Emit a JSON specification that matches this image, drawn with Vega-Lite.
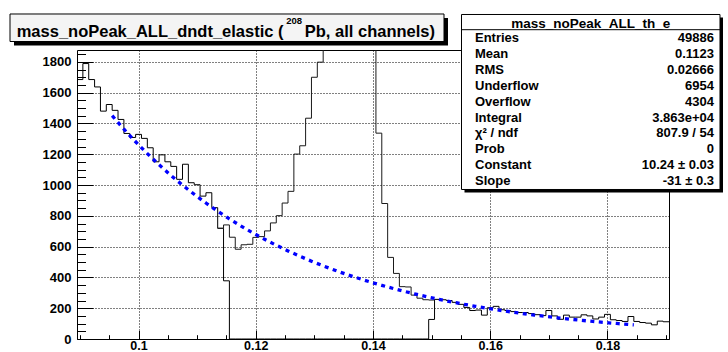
{
  "$schema": "https://vega.github.io/schema/vega-lite/v6.json",
  "width": 592,
  "height": 289,
  "autosize": {"type": "none"},
  "padding": {"left": 77, "top": 50, "right": 59, "bottom": 13},
  "background": "white",
  "config": {
    "font": "Liberation Sans",
    "view": {"stroke": "black", "strokeWidth": 1}
  },
  "datasets": {
    "noPeak": [
      {"lo": 0.0895, "n": 1685}, {"lo": 0.0905, "n": 1789}, {"lo": 0.0915, "n": 1685}, {"lo": 0.0925, "n": 1637},
      {"lo": 0.0935, "n": 1480}, {"lo": 0.0945, "n": 1523}, {"lo": 0.0955, "n": 1485}, {"lo": 0.0965, "n": 1426},
      {"lo": 0.0975, "n": 1335}, {"lo": 0.0985, "n": 1309}, {"lo": 0.0995, "n": 1329}, {"lo": 0.1005, "n": 1303},
      {"lo": 0.1015, "n": 1242}, {"lo": 0.1025, "n": 1151}, {"lo": 0.1035, "n": 1196}, {"lo": 0.1045, "n": 1151},
      {"lo": 0.1055, "n": 1121}, {"lo": 0.1065, "n": 1037}, {"lo": 0.1075, "n": 1135}, {"lo": 0.1085, "n": 1015},
      {"lo": 0.1095, "n": 1002}, {"lo": 0.1105, "n": 928}, {"lo": 0.1115, "n": 950}, {"lo": 0.1125, "n": 853},
      {"lo": 0.1135, "n": 719}, {"lo": 0.1145, "n": 378}, {"lo": 0.1155, "n": 0}, {"lo": 0.1165, "n": 0},
      {"lo": 0.1175, "n": 0}, {"lo": 0.1185, "n": 0}, {"lo": 0.1195, "n": 0}, {"lo": 0.1205, "n": 0},
      {"lo": 0.1215, "n": 0}, {"lo": 0.1225, "n": 0}, {"lo": 0.1235, "n": 0}, {"lo": 0.1245, "n": 0},
      {"lo": 0.1255, "n": 0}, {"lo": 0.1265, "n": 0}, {"lo": 0.1275, "n": 0}, {"lo": 0.1285, "n": 0},
      {"lo": 0.1295, "n": 0}, {"lo": 0.1305, "n": 0}, {"lo": 0.1315, "n": 0}, {"lo": 0.1325, "n": 0},
      {"lo": 0.1335, "n": 0}, {"lo": 0.1345, "n": 0}, {"lo": 0.1355, "n": 0}, {"lo": 0.1365, "n": 0},
      {"lo": 0.1375, "n": 0}, {"lo": 0.1385, "n": 0}, {"lo": 0.1395, "n": 0}, {"lo": 0.1405, "n": 0},
      {"lo": 0.1415, "n": 0}, {"lo": 0.1425, "n": 0}, {"lo": 0.1435, "n": 0}, {"lo": 0.1445, "n": 0},
      {"lo": 0.1455, "n": 0}, {"lo": 0.1465, "n": 0}, {"lo": 0.1475, "n": 0}, {"lo": 0.1485, "n": 0},
      {"lo": 0.1495, "n": 127}, {"lo": 0.1505, "n": 257}, {"lo": 0.1515, "n": 255}, {"lo": 0.1525, "n": 250},
      {"lo": 0.1535, "n": 238}, {"lo": 0.1545, "n": 225}, {"lo": 0.1555, "n": 205}, {"lo": 0.1565, "n": 185},
      {"lo": 0.1575, "n": 188}, {"lo": 0.1585, "n": 155}, {"lo": 0.1595, "n": 203}, {"lo": 0.1605, "n": 212},
      {"lo": 0.1615, "n": 190}, {"lo": 0.1625, "n": 185}, {"lo": 0.1635, "n": 178}, {"lo": 0.1645, "n": 172},
      {"lo": 0.1655, "n": 172}, {"lo": 0.1665, "n": 165}, {"lo": 0.1675, "n": 158}, {"lo": 0.1685, "n": 152},
      {"lo": 0.1695, "n": 185}, {"lo": 0.1705, "n": 150}, {"lo": 0.1715, "n": 128}, {"lo": 0.1725, "n": 155},
      {"lo": 0.1735, "n": 142}, {"lo": 0.1745, "n": 142}, {"lo": 0.1755, "n": 157}, {"lo": 0.1765, "n": 150},
      {"lo": 0.1775, "n": 130}, {"lo": 0.1785, "n": 142}, {"lo": 0.1795, "n": 160}, {"lo": 0.1805, "n": 125},
      {"lo": 0.1815, "n": 120}, {"lo": 0.1825, "n": 114}, {"lo": 0.1835, "n": 146}, {"lo": 0.1845, "n": 114},
      {"lo": 0.1855, "n": 107}, {"lo": 0.1865, "n": 103}, {"lo": 0.1875, "n": 92}, {"lo": 0.1885, "n": 116},
      {"lo": 0.1895, "n": 112}, {"lo": 0.1905, "n": 112}
    ],
    "full": [
      {"lo": 0.1135, "n": 719}, {"lo": 0.1145, "n": 741}, {"lo": 0.1155, "n": 661}, {"lo": 0.1165, "n": 583},
      {"lo": 0.1175, "n": 612}, {"lo": 0.1185, "n": 615}, {"lo": 0.1195, "n": 660}, {"lo": 0.1205, "n": 665},
      {"lo": 0.1215, "n": 702}, {"lo": 0.1225, "n": 754}, {"lo": 0.1235, "n": 801}, {"lo": 0.1245, "n": 883},
      {"lo": 0.1255, "n": 959}, {"lo": 0.1265, "n": 1201}, {"lo": 0.1275, "n": 1255}, {"lo": 0.1285, "n": 1434},
      {"lo": 0.1295, "n": 1700}, {"lo": 0.1305, "n": 1798}, {"lo": 0.1315, "n": 2300}, {"lo": 0.1325, "n": 2900},
      {"lo": 0.1335, "n": 3400}, {"lo": 0.1345, "n": 3700}, {"lo": 0.1355, "n": 3800}, {"lo": 0.1365, "n": 3600},
      {"lo": 0.1375, "n": 3200}, {"lo": 0.1385, "n": 2700}, {"lo": 0.1395, "n": 2100}, {"lo": 0.1405, "n": 1337},
      {"lo": 0.1415, "n": 880}, {"lo": 0.1425, "n": 530}, {"lo": 0.1435, "n": 426}, {"lo": 0.1445, "n": 340},
      {"lo": 0.1455, "n": 338}, {"lo": 0.1465, "n": 285}, {"lo": 0.1475, "n": 265}, {"lo": 0.1485, "n": 255},
      {"lo": 0.1495, "n": 253}, {"lo": 0.1505, "n": 257}, {"lo": 0.1515, "n": 257}
    ],
    "fit": [
      {"x": 0.0955, "f": 1450.3}, {"x": 0.0975, "f": 1363.1}, {"x": 0.0995, "f": 1281.2}, {"x": 0.1015, "f": 1204.2},
      {"x": 0.1035, "f": 1131.8}, {"x": 0.1055, "f": 1063.7}, {"x": 0.1075, "f": 999.8}, {"x": 0.1095, "f": 939.7},
      {"x": 0.1115, "f": 883.2}, {"x": 0.1135, "f": 830.1}, {"x": 0.1155, "f": 780.2}, {"x": 0.1175, "f": 733.3},
      {"x": 0.1195, "f": 689.2}, {"x": 0.1215, "f": 647.8}, {"x": 0.1235, "f": 608.9}, {"x": 0.1255, "f": 572.3},
      {"x": 0.1275, "f": 537.9}, {"x": 0.1295, "f": 505.5}, {"x": 0.1315, "f": 475.1}, {"x": 0.1335, "f": 446.6},
      {"x": 0.1355, "f": 419.7}, {"x": 0.1375, "f": 394.5}, {"x": 0.1395, "f": 370.8}, {"x": 0.1415, "f": 348.5},
      {"x": 0.1435, "f": 327.5}, {"x": 0.1455, "f": 307.8}, {"x": 0.1475, "f": 289.3}, {"x": 0.1495, "f": 271.9},
      {"x": 0.1515, "f": 255.6}, {"x": 0.1535, "f": 240.2}, {"x": 0.1555, "f": 225.8}, {"x": 0.1575, "f": 212.2},
      {"x": 0.1595, "f": 199.5}, {"x": 0.1615, "f": 187.5}, {"x": 0.1635, "f": 176.2}, {"x": 0.1655, "f": 165.6},
      {"x": 0.1675, "f": 155.7}, {"x": 0.1695, "f": 146.3}, {"x": 0.1715, "f": 137.5}, {"x": 0.1735, "f": 129.3},
      {"x": 0.1755, "f": 121.5}, {"x": 0.1775, "f": 114.2}, {"x": 0.1795, "f": 107.3}, {"x": 0.1815, "f": 100.9},
      {"x": 0.1835, "f": 94.8}, {"x": 0.1845, "f": 91.9}
    ],
    "stats": [
      {"row": 0, "label": "Entries", "value": "49886"},
      {"row": 1, "label": "Mean", "value": "0.1123"},
      {"row": 2, "label": "RMS", "value": "0.02666"},
      {"row": 3, "label": "Underflow", "value": "6954"},
      {"row": 4, "label": "Overflow", "value": "4304"},
      {"row": 5, "label": "Integral", "value": "3.863e+04"},
      {"row": 6, "label": "χ² / ndf", "value": "807.9 / 54"},
      {"row": 7, "label": "Prob", "value": "0"},
      {"row": 8, "label": "Constant", "value": "10.24 ± 0.03"},
      {"row": 9, "label": "Slope", "value": "-31 ± 0.3"}
    ]
  },
  "layer": [
    {
      "layer": [
        {
          "data": {"name": "noPeak"},
          "mark": {"type": "line", "interpolate": "step-after", "color": "black", "strokeWidth": 1, "clip": true},
          "encoding": {
            "x": {
              "field": "lo", "type": "quantitative",
              "scale": {"domain": [0.0895, 0.1905], "nice": false, "zero": false},
              "axis": {
                "title": null,
                "values": [0.09, 0.095, 0.1, 0.105, 0.11, 0.115, 0.12, 0.125, 0.13, 0.135, 0.14, 0.145, 0.15, 0.155, 0.16, 0.165, 0.17, 0.175, 0.18, 0.185, 0.19],
                "tickCount": 1000,
                "domain": false,
                "grid": true,
                "gridColor": "black",
                "gridDash": [1, 2],
                "gridWidth": 1,
                "gridOpacity": {"condition": {"test": "abs(datum.value*50 - round(datum.value*50)) < 1e-6", "value": 1}, "value": 0},
                "ticks": true,
                "tickColor": "black",
                "tickWidth": 1,
                "tickSize": {"condition": {"test": "abs(datum.value*50 - round(datum.value*50)) < 1e-6", "value": -8.5}, "value": -4.3},
                "labelExpr": "abs(datum.value*50 - round(datum.value*50)) < 1e-6 ? format(datum.value, '~g') : ''",
                "labelPadding": 9,
                "labelBaseline": "top",
                "labelFont": "Liberation Sans",
                "labelFontWeight": "bold",
                "labelFontSize": 12.5,
                "labelColor": "black",
                "labelFlush": false,
                "labelOverlap": false,
                "labelBound": false
              }
            },
            "y": {
              "field": "n", "type": "quantitative",
              "scale": {"domain": [0, 1877], "nice": false, "zero": false},
              "axis": {
                "title": null,
                "values": [0, 50, 100, 150, 200, 250, 300, 350, 400, 450, 500, 550, 600, 650, 700, 750, 800, 850, 900, 950, 1000, 1050, 1100, 1150, 1200, 1250, 1300, 1350, 1400, 1450, 1500, 1550, 1600, 1650, 1700, 1750, 1800, 1850],
                "tickCount": 1000,
                "domain": false,
                "grid": true,
                "gridColor": "black",
                "gridDash": [1, 2],
                "gridWidth": 1,
                "gridOpacity": {"condition": {"test": "datum.value % 200 === 0", "value": 1}, "value": 0},
                "ticks": true,
                "tickColor": "black",
                "tickWidth": 1,
                "tickSize": {"condition": {"test": "datum.value % 200 === 0", "value": -16}, "value": -8.5},
                "labelExpr": "datum.value % 200 === 0 ? format(datum.value, 'd') : ''",
                "labelPadding": 22,
                "labelFont": "Liberation Sans",
                "labelFontWeight": "bold",
                "labelFontSize": 13,
                "labelColor": "black",
                "labelFlush": false,
                "labelOverlap": false,
                "labelBound": false
              }
            }
          }
        },
        {
          "data": {"name": "full"},
          "mark": {"type": "line", "interpolate": "step-after", "color": "#1a1a1a", "strokeWidth": 1, "clip": true},
          "encoding": {
            "x": {"field": "lo", "type": "quantitative"},
            "y": {"field": "n", "type": "quantitative"}
          }
        },
        {
          "data": {"name": "fit"},
          "mark": {"type": "line", "interpolate": "monotone", "color": "#0000ff", "strokeWidth": 3.3, "strokeDash": [4, 4.5], "clip": true},
          "encoding": {
            "x": {"field": "x", "type": "quantitative"},
            "y": {"field": "f", "type": "quantitative"}
          }
        }
      ]
    },
    {
      "layer": [
        {
          "data": {"values": [{}]},
          "mark": {"type": "rect", "fill": "black", "stroke": null},
          "encoding": {
            "x": {"datum": 0.01923, "scale": {"domain": [0.105769, 0.918956], "nice": false, "zero": false}, "axis": null},
            "x2": {"datum": 0.61538},
            "y": {"datum": 0.94886, "scale": {"domain": [0.036932, 0.857955], "nice": false, "zero": false}, "axis": null},
            "y2": {"datum": 0.87074}
          }
        },
        {
          "data": {"values": [{}]},
          "mark": {"type": "rect", "fill": "#f4f4f4", "stroke": "black", "strokeWidth": 1},
          "encoding": {
            "x": {"datum": 0.01374, "axis": null},
            "x2": {"datum": 0.60989},
            "y": {"datum": 0.96023, "axis": null},
            "y2": {"datum": 0.8821}
          }
        },
        {
          "data": {"values": [{"t": "mass_noPeak_ALL_dndt_elastic ("}]},
          "mark": {"type": "text", "align": "left", "baseline": "alphabetic", "font": "Liberation Sans", "fontWeight": "bold", "fontSize": 16.5, "color": "black"},
          "encoding": {
            "x": {"datum": 0.02294, "axis": null},
            "y": {"datum": 0.89403, "axis": null},
            "text": {"field": "t"}
          }
        },
        {
          "data": {"values": [{"t": "208"}]},
          "mark": {"type": "text", "align": "center", "baseline": "alphabetic", "font": "Liberation Sans", "fontWeight": "bold", "fontSize": 9.5, "color": "black"},
          "encoding": {
            "x": {"datum": 0.40412, "axis": null},
            "y": {"datum": 0.93182, "axis": null},
            "text": {"field": "t"}
          }
        },
        {
          "data": {"values": [{"t": "Pb, all channels)"}]},
          "mark": {"type": "text", "align": "right", "baseline": "alphabetic", "font": "Liberation Sans", "fontWeight": "bold", "fontSize": 16.5, "color": "black"},
          "encoding": {
            "x": {"datum": 0.59753, "axis": null},
            "y": {"datum": 0.89403, "axis": null},
            "text": {"field": "t"}
          }
        },
        {
          "data": {"values": [{}]},
          "mark": {"type": "rect", "fill": "black", "stroke": null},
          "encoding": {
            "x": {"datum": 0.63805, "axis": null},
            "x2": {"datum": 0.99313},
            "y": {"datum": 0.95028, "axis": null},
            "y2": {"datum": 0.45313}
          }
        },
        {
          "data": {"values": [{}]},
          "mark": {"type": "rect", "fill": "white", "stroke": "black", "strokeWidth": 1},
          "encoding": {
            "x": {"datum": 0.63393, "axis": null},
            "x2": {"datum": 0.98901},
            "y": {"datum": 0.95881, "axis": null},
            "y2": {"datum": 0.46165}
          }
        },
        {
          "data": {"values": [{}]},
          "mark": {"type": "rule", "color": "black", "strokeWidth": 1},
          "encoding": {
            "x": {"datum": 0.63393, "axis": null},
            "x2": {"datum": 0.98901},
            "y": {"datum": 0.91563, "axis": null}
          }
        },
        {
          "data": {"values": [{"t": "mass_noPeak_ALL_th_e"}]},
          "mark": {"type": "text", "align": "center", "baseline": "alphabetic", "font": "Liberation Sans", "fontWeight": "bold", "fontSize": 13.5, "color": "black"},
          "encoding": {
            "x": {"datum": 0.81147, "axis": null},
            "y": {"datum": 0.92131, "axis": null},
            "text": {"field": "t"}
          }
        }
      ]
    },
    {
      "data": {"name": "stats"},
      "layer": [
        {
          "mark": {"type": "text", "align": "left", "baseline": "alphabetic", "font": "Liberation Sans", "fontWeight": "bold", "fontSize": 13, "color": "black"},
          "encoding": {
            "x": {"datum": 0.65247, "scale": {"domain": [0.105769, 0.918956], "nice": false, "zero": false}, "axis": null},
            "y": {"field": "row", "type": "quantitative", "scale": {"domain": [0.5031, 18.6793], "reverse": true, "nice": false, "zero": false}, "axis": null},
            "text": {"field": "label"}
          }
        },
        {
          "mark": {"type": "text", "align": "right", "baseline": "alphabetic", "font": "Liberation Sans", "fontWeight": "bold", "fontSize": 13, "color": "black"},
          "encoding": {
            "x": {"datum": 0.98077, "axis": null},
            "y": {"field": "row", "type": "quantitative", "axis": null},
            "text": {"field": "value"}
          }
        }
      ]
    }
  ],
  "resolve": {"scale": {"x": "independent", "y": "independent"}}
}
